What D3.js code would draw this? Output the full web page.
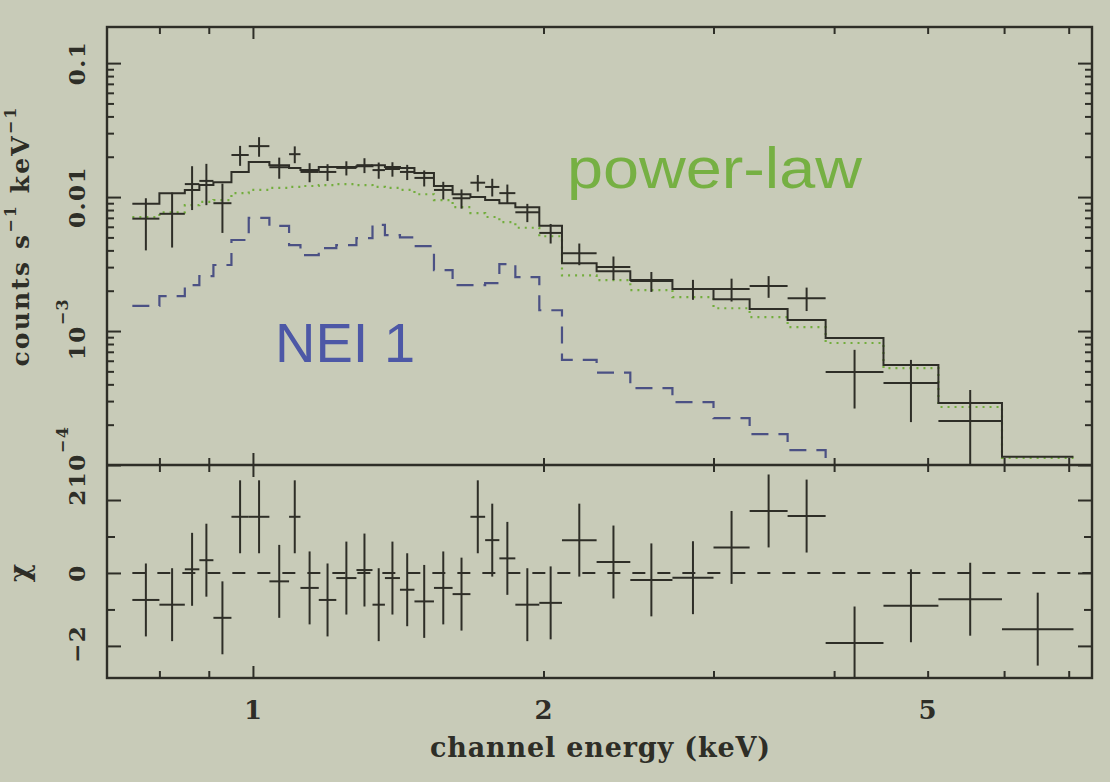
<!DOCTYPE html>
<html>
<head>
<meta charset="utf-8">
<script src="https://cdn.jsdelivr.net/npm/d3@7"></script>
<style>
  body { margin: 0; background: #c8cbb8; }
  svg { display: block; }
  .lbl { font-family: "DejaVu Serif", serif; font-weight: bold; fill: #2e2e27; }
</style>
</head>
<body>
<div id="chart"></div>
<script>
// channel bin edges (keV)
const edges = [0.75, 0.80, 0.85, 0.88, 0.91, 0.95, 0.99, 1.04, 1.09, 1.12, 1.17, 1.22,
  1.28, 1.33, 1.37, 1.42, 1.47, 1.54, 1.61, 1.68, 1.74, 1.80, 1.87, 1.98, 2.09,
  2.27, 2.46, 2.72, 3.00, 3.27, 3.58, 3.92, 4.50, 5.13, 5.97, 7.08];

// observed rate per bin (counts s^-1 keV^-1) and 1-sigma error
const counts = [0.0069, 0.0075, 0.0125, 0.0132, 0.0090, 0.0206, 0.0240, 0.0167, 0.0209, 0.0154,
  0.0154, 0.0165, 0.0173, 0.0159, 0.0162, 0.0154, 0.0139, 0.0113, 0.0098, 0.0128,
  0.0119, 0.0107, 0.0077, 0.0054, 0.0038, 0.0030, 0.00236, 0.00206, 0.00206, 0.00217,
  0.00176, 0.000494, 0.000409, 0.000213, null];
const errors = [0.0029, 0.0033, 0.0045, 0.0045, 0.0036, 0.0035, 0.0040, 0.0030, 0.0030, 0.0025,
  0.0022, 0.0020, 0.0022, 0.0022, 0.0020, 0.0020, 0.0019, 0.0017, 0.0016, 0.0018,
  0.0018, 0.0017, 0.0012, 0.0009, 0.0007, 0.0006, 0.0004, 0.00035, 0.0004, 0.0004,
  0.00035, 0.00023, 0.0002, 0.00015, null];

// folded model: total, power-law component, NEI component
const model = [0.0089, 0.0107, 0.0113, 0.0123, 0.0129, 0.0154, 0.0183, 0.0173, 0.0165, 0.0159,
  0.0168, 0.0168, 0.0170, 0.0173, 0.0168, 0.0165, 0.0151, 0.0121, 0.0105, 0.0100,
  0.0095, 0.0090, 0.0084, 0.0061, 0.0032, 0.0028, 0.0024, 0.00206, 0.00173, 0.00146,
  0.00121, 0.000887, 0.000557, 0.00029, 0.000115];
const powerLaw = [0.0071, 0.0077, 0.0087, 0.0092, 0.0095, 0.0107, 0.0113, 0.0117, 0.0119, 0.0121,
  0.0123, 0.0125, 0.0123, 0.0119, 0.0117, 0.0113, 0.0105, 0.0095, 0.0084, 0.0076,
  0.0071, 0.0065, 0.0059, 0.0051, 0.0026, 0.0024, 0.00202, 0.00179, 0.00148, 0.00127,
  0.00107, 0.000814, 0.000529, 0.000271, 0.000113];
const nei = [0.00154, 0.00182, 0.0022, 0.00257, 0.00311, 0.00478, 0.0070, 0.0061, 0.00438, 0.00369,
  0.00416, 0.00438, 0.00494, 0.0062, 0.0052, 0.0050, 0.00431, 0.00285, 0.0022, 0.0022,
  0.00228, 0.00316, 0.00253, 0.00143, 0.00061, 0.00049, 0.000375, 0.000295, 0.000224, 0.00017,
  0.000129, 0.00008];

// residuals (data - model) / error
const chi = [-0.74, -0.87, 0.1, 0.35, -1.23, 1.54, 1.54, -0.23, 1.54, -0.41,
  -0.74, -0.14, 0.08, -0.87, -0.14, -0.46, -0.78, -0.41, -0.58, 1.54,
  0.9, 0.4, -0.87, -0.82, 0.9, 0.3, -0.19, -0.13, 0.7, 1.7,
  1.56, -1.92, -0.9, -0.72, -1.54];

const xMajor = [1], xMinor = [0.8, 0.9, 2, 3, 4, 5, 6, 7], xLabels = [1, 2, 5];
const yDecades = [1e-4, 1e-3, 1e-2, 0.1];
const resMajor = [-2, 0, 2], resMinor = [-1, 1];

const width = 1110, height = 782;
const fLeft = 107, fRight = 1092, fTop = 27, fMid = 465, fBottom = 678;
const ink = '#2e2e27';

const svg = d3.select('#chart').append('svg')
  .attr('width', width)
  .attr('height', height);

svg.append('rect').attr('width', width).attr('height', height).attr('fill', '#c8cbb8');

const x = d3.scaleLog().domain([0.706, 7.4]).range([fLeft, fRight]);
const yTop = d3.scaleLog().domain([1e-4, 0.186]).range([fMid, fTop]);
const yRes = d3.scaleLinear().domain([-2.88, 2.96]).range([fBottom, fMid]);

const defs = svg.append('defs');
defs.append('clipPath').attr('id', 'clipTop').append('rect')
  .attr('x', fLeft).attr('y', fTop).attr('width', fRight - fLeft).attr('height', fMid - fTop);
defs.append('clipPath').attr('id', 'clipRes').append('rect')
  .attr('x', fLeft).attr('y', fMid).attr('width', fRight - fLeft).attr('height', fBottom - fMid);

const bins = d3.range(edges.length - 1).map(i => ({
  lo: edges[i], hi: edges[i + 1], mid: Math.sqrt(edges[i] * edges[i + 1]),
  v: counts[i], e: errors[i], chi: chi[i]
}));

// histogram-style step points
const steps = vals => vals.flatMap((v, i) => v == null ? [] : [[edges[i], v], [edges[i + 1], v]]);
const stepLine = d3.line().x(d => x(d[0])).y(d => yTop(d[1]));

const topG = svg.append('g').attr('clip-path', 'url(#clipTop)');

topG.append('path')
  .attr('d', stepLine(steps(nei)))
  .attr('fill', 'none').attr('stroke', '#4b5184').attr('stroke-width', 2.2)
  .attr('stroke-dasharray', '17,10');

topG.append('path')
  .attr('d', stepLine(steps(powerLaw)))
  .attr('fill', 'none').attr('stroke', '#72ad3c').attr('stroke-width', 2.2)
  .attr('stroke-dasharray', '2,5');

topG.append('path')
  .attr('d', stepLine(steps(model)))
  .attr('fill', 'none').attr('stroke', ink).attr('stroke-width', 2);

const pts = topG.append('g').selectAll('g')
  .data(bins.filter(d => d.v != null))
  .enter().append('g');
pts.append('line')
  .attr('x1', d => x(d.lo)).attr('x2', d => x(d.hi))
  .attr('y1', d => yTop(d.v)).attr('y2', d => yTop(d.v))
  .attr('stroke', ink).attr('stroke-width', 2);
pts.append('line')
  .attr('x1', d => x(d.mid)).attr('x2', d => x(d.mid))
  .attr('y1', d => yTop(d.v + d.e)).attr('y2', d => yTop(Math.max(d.v - d.e, 1e-6)))
  .attr('stroke', ink).attr('stroke-width', 2);

// residual panel
const resG = svg.append('g').attr('clip-path', 'url(#clipRes)');
resG.append('line')
  .attr('x1', x(edges[0])).attr('x2', fRight)
  .attr('y1', yRes(0)).attr('y2', yRes(0))
  .attr('stroke', ink).attr('stroke-width', 2).attr('stroke-dasharray', '13,12');

const rp = resG.append('g').selectAll('g').data(bins).enter().append('g');
rp.append('line')
  .attr('x1', d => x(d.lo)).attr('x2', d => x(d.hi))
  .attr('y1', d => yRes(d.chi)).attr('y2', d => yRes(d.chi))
  .attr('stroke', ink).attr('stroke-width', 2);
rp.append('line')
  .attr('x1', d => x(d.mid)).attr('x2', d => x(d.mid))
  .attr('y1', d => yRes(d.chi + 1)).attr('y2', d => yRes(d.chi - 1))
  .attr('stroke', ink).attr('stroke-width', 2);

// frame
svg.append('rect')
  .attr('x', fLeft).attr('y', fTop).attr('width', fRight - fLeft).attr('height', fBottom - fTop)
  .attr('fill', 'none').attr('stroke', ink).attr('stroke-width', 2.4);
svg.append('line')
  .attr('x1', fLeft).attr('x2', fRight).attr('y1', fMid).attr('y2', fMid)
  .attr('stroke', ink).attr('stroke-width', 2.4);

// tick marks, drawn inward on every side of both panels
function ticks(axis, values, size, at) {
  svg.append('g')
    .attr('transform', at)
    .call(axis.tickValues(values).tickSize(size).tickSizeOuter(0).tickFormat(''))
    .call(g => g.select('.domain').remove())
    .call(g => g.selectAll('line').attr('stroke', ink).attr('stroke-width', 2));
}
const yMinor = yTop.ticks().filter(v => !yDecades.some(d => Math.abs(d - v) / d < 1e-6));

ticks(d3.axisTop(x), xMajor, -12, `translate(0,${fTop})`);
ticks(d3.axisTop(x), xMinor, -7, `translate(0,${fTop})`);
ticks(d3.axisBottom(x), xMajor, -12, `translate(0,${fMid})`);
ticks(d3.axisBottom(x), xMinor, -7, `translate(0,${fMid})`);
ticks(d3.axisTop(x), xMajor, -12, `translate(0,${fMid})`);
ticks(d3.axisTop(x), xMinor, -7, `translate(0,${fMid})`);
ticks(d3.axisBottom(x), xMajor, -12, `translate(0,${fBottom})`);
ticks(d3.axisBottom(x), xMinor, -7, `translate(0,${fBottom})`);

ticks(d3.axisLeft(yTop), yDecades, -14, `translate(${fLeft},0)`);
ticks(d3.axisLeft(yTop), yMinor, -7, `translate(${fLeft},0)`);
ticks(d3.axisRight(yTop), yDecades, -14, `translate(${fRight},0)`);
ticks(d3.axisRight(yTop), yMinor, -7, `translate(${fRight},0)`);

ticks(d3.axisLeft(yRes), resMajor, -14, `translate(${fLeft},0)`);
ticks(d3.axisLeft(yRes), resMinor, -8, `translate(${fLeft},0)`);
ticks(d3.axisRight(yRes), resMajor, -14, `translate(${fRight},0)`);
ticks(d3.axisRight(yRes), resMinor, -8, `translate(${fRight},0)`);

// x tick labels and title
svg.append('g').selectAll('text')
  .data(xLabels)
  .enter().append('text')
  .attr('class', 'lbl')
  .attr('x', d => x(d)).attr('y', 719)
  .attr('text-anchor', 'middle').attr('font-size', 26)
  .text(d => d);

svg.append('text')
  .attr('class', 'lbl')
  .attr('x', 600).attr('y', 757)
  .attr('text-anchor', 'middle').attr('font-size', 27)
  .attr('textLength', 340).attr('lengthAdjust', 'spacing')
  .text('channel energy (keV)');

// rotated y tick labels
function rotLabel(px, py, base, sup) {
  const t = svg.append('text')
    .attr('class', 'lbl')
    .attr('transform', `translate(${px},${py}) rotate(-90)`)
    .attr('text-anchor', 'middle').attr('font-size', 23)
    .attr('letter-spacing', 1.5);
  t.append('tspan').text(base);
  if (sup) t.append('tspan').attr('dy', -17).attr('font-size', 16).text(sup);
}
rotLabel(85, yTop(0.1), '0.1');
rotLabel(85, yTop(0.01), '0.01');
rotLabel(85, yTop(1e-3) - 2, '10', '\u22123');
rotLabel(85, yTop(1e-4) - 8, '10', '\u22124');
rotLabel(85, yRes(2) - 3, '2');
rotLabel(85, yRes(0), '0');
rotLabel(85, yRes(-2) - 2, '\u22122');

// axis titles
const yt = svg.append('text')
  .attr('class', 'lbl')
  .attr('transform', `translate(29,237) rotate(-90)`)
  .attr('text-anchor', 'middle').attr('font-size', 25)
  .attr('textLength', 259).attr('lengthAdjust', 'spacing');
yt.append('tspan').text('counts s');
yt.append('tspan').attr('dy', -13).attr('font-size', 16).text('\u22121');
yt.append('tspan').attr('dy', 13).text(' keV');
yt.append('tspan').attr('dy', -13).attr('font-size', 16).text('\u22121');

svg.append('text')
  .attr('class', 'lbl')
  .attr('transform', `translate(29,${yRes(0)}) rotate(-90)`)
  .attr('text-anchor', 'middle').attr('font-size', 28)
  .text('\u03c7');

// component annotations
svg.append('text')
  .attr('x', 567).attr('y', 188)
  .attr('font-family', 'Liberation Sans, Arial, sans-serif')
  .attr('font-size', 57)
  .attr('textLength', 295).attr('lengthAdjust', 'spacingAndGlyphs')
  .attr('fill', '#76b043')
  .text('power-law');

svg.append('text')
  .attr('x', 275).attr('y', 362)
  .attr('font-family', 'Liberation Sans, Arial, sans-serif')
  .attr('font-size', 56)
  .attr('fill', '#4d58a6')
  .text('NEI 1');
</script>
</body>
</html>
